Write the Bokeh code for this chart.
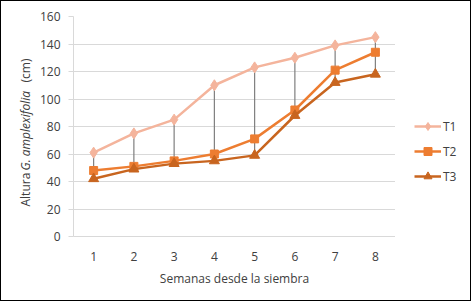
import numpy as np
from bokeh.plotting import figure
from bokeh.layouts import row
from bokeh.models import Label, Legend, LegendItem, FixedTicker, Range1d
from bokeh.embed import file_html
from bokeh.resources import INLINE

# ---- data ----
weeks = [1, 2, 3, 4, 5, 6, 7, 8]
week_labels = ["1", "2", "3", "4", "5", "6", "7", "8"]
t1 = [61, 75, 85, 110, 123, 130, 139, 145]
t2 = [48, 51, 55, 60, 71, 92, 121, 134]
t3 = [42, 49, 53, 55, 59, 88, 112, 118]
y_ticks = [0, 20, 40, 60, 80, 100, 120, 140, 160]
series_names = ["T1", "T2", "T3"]
x_title = "Semanas desde la siembra"
y_title_parts = ["Altura", "G. amplexifolia", "(cm)"]

FONT = "Open Sans"
TXT = "#404040"
GRID = "#D9D9D9"
COLORS = ["#F4B49C", "#ED7D31", "#C8651F"]
MARKERS = ["diamond", "square", "triangle"]
MSIZES = [11, 8, 10]
FS = "12px"
H = 301
BK = "1px solid #000000"


def bare(fig):
    fig.xaxis.visible = False
    fig.yaxis.visible = False
    fig.xgrid.visible = False
    fig.ygrid.visible = False
    fig.outline_line_color = None
    fig.background_fill_color = "white"
    fig.border_fill_color = "white"


# ---- left strip: y title with italic species name ----
left = figure(width=36, height=H, x_range=Range1d(0, 1), y_range=Range1d(0, 1),
              output_backend="svg", toolbar_location=None,
              min_border_left=0, min_border_right=0,
              min_border_top=0, min_border_bottom=0)
bare(left)
left.styles = {"border-left": BK, "border-top": BK, "border-bottom": BK}

y_starts = [30, 66, 154]
font_styles = ["normal", "italic", "normal"]
for txt, ys, st in zip(y_title_parts, y_starts, font_styles):
    left.add_layout(Label(x=24, y=ys, x_units="screen", y_units="screen",
                          text=txt, angle=np.pi / 2, text_align="left",
                          text_baseline="middle", text_font=FONT,
                          text_font_style=st, text_font_size=FS,
                          text_color=TXT))

# ---- main chart ----
p = figure(width=359, height=H,
           x_range=Range1d(0.5, 8.5), y_range=Range1d(0, 160),
           output_backend="svg", toolbar_location=None,
           min_border_left=37, min_border_right=0,
           min_border_top=15, min_border_bottom=66)
p.outline_line_color = None
p.background_fill_color = "white"
p.border_fill_color = "white"
p.styles = {"border-top": BK, "border-bottom": BK}

p.yaxis.ticker = FixedTicker(ticks=y_ticks)
p.yaxis.major_tick_out = 5
p.yaxis.major_tick_in = 0
p.yaxis.minor_tick_line_color = None
p.yaxis.axis_line_color = GRID
p.yaxis.major_tick_line_color = GRID
p.yaxis.major_label_standoff = 8
p.yaxis.major_label_text_font = FONT
p.yaxis.major_label_text_font_size = FS
p.yaxis.major_label_text_color = TXT

p.xaxis.ticker = FixedTicker(ticks=weeks)
p.xaxis.major_label_overrides = {w: l for w, l in zip(weeks, week_labels)}
p.xaxis.major_tick_out = 0
p.xaxis.major_tick_in = 0
p.xaxis.minor_tick_line_color = None
p.xaxis.axis_line_color = GRID
p.xaxis.major_label_standoff = 15
p.xaxis.major_label_text_font = FONT
p.xaxis.major_label_text_font_size = FS
p.xaxis.major_label_text_color = TXT
p.xaxis.axis_label = x_title
p.xaxis.axis_label_text_font = FONT
p.xaxis.axis_label_text_font_style = "normal"
p.xaxis.axis_label_text_font_size = FS
p.xaxis.axis_label_text_color = TXT
p.xaxis.axis_label_standoff = 6

p.xgrid.grid_line_color = None
p.ygrid.grid_line_color = GRID
p.ygrid.grid_line_width = 1

# high-low lines
hi = np.max([t1, t2, t3], axis=0)
lo = np.min([t1, t2, t3], axis=0)
p.segment(x0=weeks, y0=hi, x1=weeks, y1=lo, line_color="#7F7F7F", line_width=1.2)

for ys, c, m, s in zip([t1, t2, t3], COLORS, MARKERS, MSIZES):
    p.line(weeks, ys, line_color=c, line_width=2.5)
    p.scatter(weeks, ys, marker=m, size=s, fill_color=c, line_color=c)

# ---- right strip: legend (series drawn off-range, only their legend shows) ----
right = figure(width=76, height=H, x_range=Range1d(-2, -1), y_range=Range1d(-2, -1),
               output_backend="svg", toolbar_location=None,
               min_border_left=0, min_border_right=0,
               min_border_top=0, min_border_bottom=0)
bare(right)
right.styles = {"border-right": BK, "border-top": BK, "border-bottom": BK}

items = []
for name, ys, c, m, s in zip(series_names, [t1, t2, t3], COLORS, MARKERS, MSIZES):
    rl = right.line(weeks, ys, line_color=c, line_width=2.5)
    rm = right.scatter(weeks, ys, marker=m, size=s, fill_color=c, line_color=c)
    items.append(LegendItem(label=name, renderers=[rl, rm]))

legend = Legend(items=items, location=(19, 50), orientation="vertical",
                glyph_width=27, glyph_height=20, label_height=20, label_standoff=2,
                spacing=5, padding=0, margin=0,
                border_line_color=None, background_fill_alpha=0,
                label_text_font=FONT, label_text_font_size=FS, label_text_color=TXT)
right.add_layout(legend, "center")

layout = row(left, p, right, spacing=0)

open("out.html", "w").write(file_html(layout, INLINE))
